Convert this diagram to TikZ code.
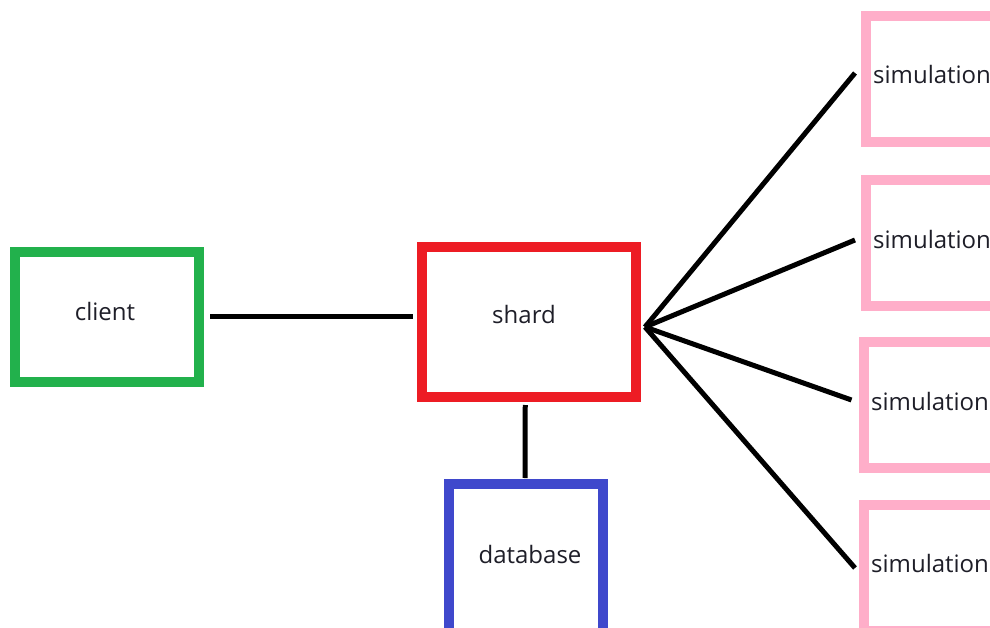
\documentclass[tikz,border=0pt]{standalone}
\usepackage{fontspec}
\setmainfont{Open Sans}
\definecolor{clientgreen}{HTML}{22B14C}
\definecolor{shardred}{HTML}{ED1C24}
\definecolor{dbblue}{HTML}{3F48CC}
\definecolor{simpink}{HTML}{FFAEC9}
\definecolor{labelink}{HTML}{1E1E28}
\tikzset{
  box/.style={draw, line width=10pt, rectangle, inner sep=0pt, outer sep=0pt, anchor=north west, fill=none},
  lbl/.style={inner sep=0pt, text=labelink, font=\fontsize{24}{28}\selectfont},
  link/.style={draw=black, line width=5pt}
}
\begin{document}
\begin{tikzpicture}[x=1pt, y=-1pt]
  \useasboundingbox (0,0) rectangle (990,628);
  \clip (0,0) rectangle (990,628);
  \fill[white] (0,0) rectangle (990,628);

  % boxes (coordinates in pixel units, y pointing down; stroke centre lines)
  \node[box, draw=clientgreen, minimum width=184pt, minimum height=130pt] (client) at (15,252) {};
  \node[box, draw=shardred, minimum width=214.5pt, minimum height=150pt] (shard) at (421.5,247) {};
  \node[box, draw=dbblue, minimum width=154pt, minimum height=170pt] (database) at (449,484) {};
  \node[box, draw=simpink, minimum width=240pt, minimum height=126pt] (sim1) at (866,16) {};
  \node[box, draw=simpink, minimum width=240pt, minimum height=125pt] (sim2) at (866,180.5) {};
  \node[box, draw=simpink, minimum width=240pt, minimum height=126pt] (sim3) at (863.5,342) {};
  \node[box, draw=simpink, minimum width=240pt, minimum height=126pt] (sim4) at (863.5,504.5) {};

  % labels
  \node[lbl] (tclient) at (105,311.5) {client};
  \node[lbl] (tshard) at (524,314.5) {shard};
  \node[lbl] (tdb) at (530,554) {database};
  \node[lbl, anchor=west] (tsim1) at (873,75) {simulation};
  \node[lbl, anchor=west] (tsim2) at (873,240) {simulation};
  \node[lbl, anchor=west] (tsim3) at (871,401.5) {simulation};
  \node[lbl, anchor=west] (tsim4) at (871,563) {simulation};

  % connectors
  \draw[link] ([xshift=11pt,yshift=1pt]client.east) -- ([xshift=-9pt,yshift=6pt]shard.west);
  \draw[link] ([xshift=-3.5pt,yshift=-8pt]shard.south) -- ([xshift=-1pt,yshift=6pt]database.north);
  \coordinate (hub) at ([xshift=9pt,yshift=-5pt]shard.east);
  \draw[link, line join=round] (hub) -- ([xshift=-11pt,yshift=6pt]sim1.west);
  \draw[link, line join=round] (hub) -- ([xshift=-11pt,yshift=3pt]sim2.west);
  \draw[link, line join=round] (hub) -- ([xshift=-12pt,yshift=5pt]sim3.west);
  \draw[link, line join=round] (hub) -- ([xshift=-8.5pt,yshift=-0.5pt]sim4.west);
\end{tikzpicture}
\end{document}
